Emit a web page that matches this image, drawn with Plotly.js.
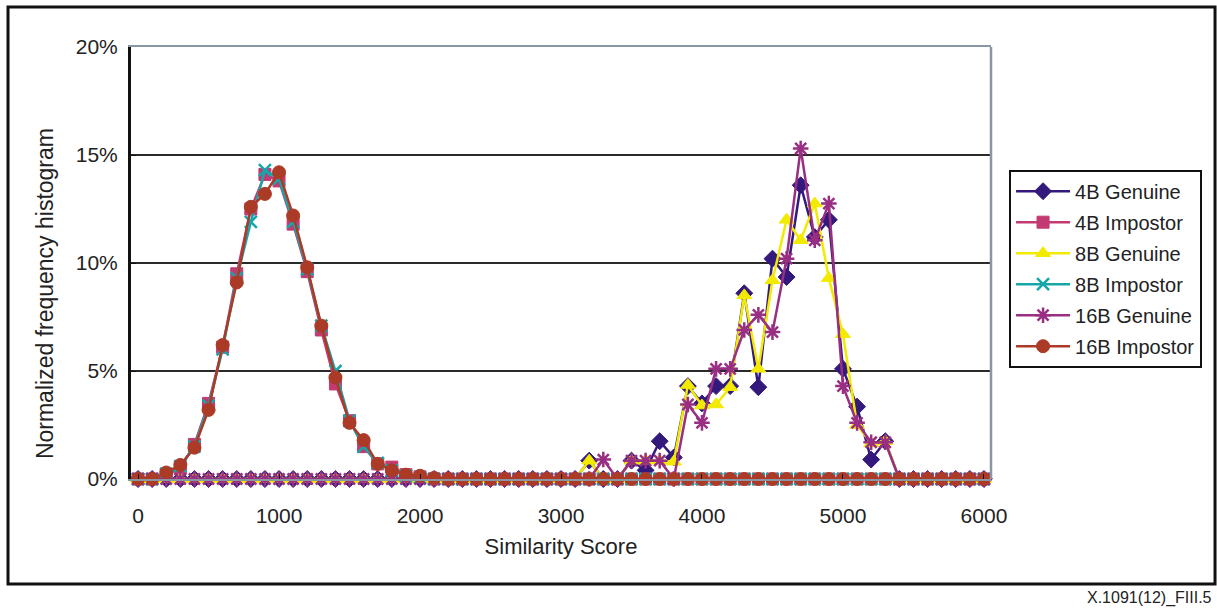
<!DOCTYPE html>
<html>
<head>
<meta charset="utf-8">
<script src="https://cdn.plot.ly/plotly-3.0.1.min.js"></script>
<style>
  html, body { margin: 0; padding: 0; background: #ffffff; }
  #chart { width: 1217px; height: 608px; }
</style>
</head>
<body>
<div id="chart"></div>
<script>
// Similarity score bins (category axis, one point per 100)
const scores = [
  0, 100, 200, 300, 400, 500, 600, 700, 800, 900,
  1000, 1100, 1200, 1300, 1400, 1500, 1600, 1700, 1800, 1900,
  2000, 2100, 2200, 2300, 2400, 2500, 2600, 2700, 2800, 2900,
  3000, 3100, 3200, 3300, 3400, 3500, 3600, 3700, 3800, 3900,
  4000, 4100, 4200, 4300, 4400, 4500, 4600, 4700, 4800, 4900,
  5000, 5100, 5200, 5300, 5400, 5500, 5600, 5700, 5800, 5900,
  6000
];

const xTickVals = [0, 1000, 2000, 3000, 4000, 5000, 6000];
const xTickText = ['0', '1000', '2000', '3000', '4000', '5000', '6000'];
const yTickVals = [0, 5, 10, 15, 20];
const yTickText = ['0%', '5%', '10%', '15%', '20%'];

// Normalized frequency (%) per bin
const genuine4B = [
  0, 0, 0, 0, 0, 0, 0, 0, 0, 0,
  0, 0, 0, 0, 0, 0, 0, 0, 0, 0,
  0, 0, 0, 0, 0, 0, 0, 0, 0, 0,
  0, 0, 0.85, 0, 0, 0.85, 0.4, 1.75, 1.0, 4.3,
  3.5, 4.3, 4.3, 8.6, 4.25, 10.2, 9.35, 13.6, 11.2, 12.0,
  5.1, 3.35, 0.9, 1.75, 0, 0, 0, 0, 0, 0,
  0
];
const impostor4B = [
  0, 0, 0.2, 0.5, 1.6, 3.5, 6.1, 9.5, 12.5, 14.1,
  13.8, 11.8, 9.6, 6.9, 4.4, 2.7, 1.5, 0.7, 0.55, 0.2,
  0.1, 0, 0, 0, 0, 0, 0, 0, 0, 0,
  0, 0, 0, 0, 0, 0, 0, 0, 0, 0,
  0, 0, 0, 0, 0, 0, 0, 0, 0, 0,
  0, 0, 0, 0, 0, 0, 0, 0, 0, 0,
  0
];
const genuine8B = [
  0, 0, 0, 0, 0, 0, 0, 0, 0, 0,
  0, 0, 0, 0, 0, 0, 0, 0, 0, 0,
  0, 0, 0, 0, 0, 0, 0, 0, 0, 0,
  0, 0, 0.85, 0, 0, 0.85, 0.85, 0.85, 0.8, 4.35,
  3.4, 3.45, 4.25, 8.5, 5.1, 9.2, 12.0, 11.05, 12.75, 9.3,
  6.7, 2.5, 1.65, 1.75, 0, 0, 0, 0, 0, 0,
  0
];
const impostor8B = [
  0, 0, 0.25, 0.6, 1.5, 3.4, 6.0, 9.3, 11.9, 14.3,
  13.9, 11.9, 9.7, 7.1, 5.0, 2.7, 1.5, 0.75, 0.4, 0.15,
  0.05, 0, 0, 0, 0, 0, 0, 0, 0, 0,
  0, 0, 0, 0, 0, 0, 0, 0, 0, 0,
  0, 0, 0, 0, 0, 0, 0, 0, 0, 0,
  0, 0, 0, 0, 0, 0, 0, 0, 0, 0,
  0
];
const genuine16B = [
  0, 0, 0, 0, 0, 0, 0, 0, 0, 0,
  0, 0, 0, 0, 0, 0, 0, 0, 0, 0,
  0, 0, 0, 0, 0, 0, 0, 0, 0, 0,
  0, 0, 0, 0.9, 0, 0.85, 0.85, 0.85, 0, 3.45,
  2.6, 5.1, 5.1, 6.9, 7.6, 6.8, 10.2, 15.3, 11.05, 12.75,
  4.3, 2.6, 1.7, 1.7, 0, 0, 0, 0, 0, 0,
  0
];
const impostor16B = [
  0, 0, 0.3, 0.65, 1.45, 3.2, 6.2, 9.1, 12.6, 13.2,
  14.2, 12.2, 9.8, 7.1, 4.7, 2.6, 1.8, 0.7, 0.4, 0.2,
  0.15, 0.05, 0, 0, 0, 0, 0, 0, 0, 0,
  0, 0, 0, 0, 0, 0, 0, 0, 0, 0,
  0, 0, 0, 0, 0, 0, 0, 0, 0, 0,
  0, 0, 0, 0, 0, 0, 0, 0, 0, 0,
  0
];

const seriesNames = ['4B Genuine', '4B Impostor', '8B Genuine', '8B Impostor', '16B Genuine', '16B Impostor'];
const seriesValues = [genuine4B, impostor4B, genuine8B, impostor8B, genuine16B, impostor16B];

const styles = [
  { color: '#34197c', symbol: 'diamond', size: 13, open: false },
  { color: '#c23a71', symbol: 'square', size: 12, open: false },
  { color: '#f2ea00', symbol: 'triangle-up', size: 13, open: false },
  { color: '#16a6aa', symbol: 'x-thin-open', size: 12, open: true },
  { color: '#992f83', symbol: 'asterisk-open', size: 13, open: true },
  { color: '#ab3b26', symbol: 'circle', size: 13, open: false }
];

const traces = seriesNames.map((name, i) => {
  const s = styles[i];
  return {
    type: 'scatter',
    mode: 'lines+markers',
    name: name,
    legendgroup: 'g' + i,
    x: scores,
    y: seriesValues[i],
    cliponaxis: false,
    line: { color: s.color, width: 2.5 },
    marker: {
      symbol: s.symbol,
      size: s.size,
      color: s.color,
      line: { color: s.color, width: s.open ? 2.5 : 1 }
    }
  };
});

const layout = {
  width: 1217,
  height: 608,
  margin: { l: 131, r: 226, t: 47, b: 129 },
  paper_bgcolor: '#ffffff',
  plot_bgcolor: '#ffffff',
  font: { family: '"Liberation Sans", Arial, sans-serif', color: '#222222', size: 21 },
  showlegend: true,
  legend: {
    x: 1.021, y: 0.716, xanchor: 'left', yanchor: 'top',
    bgcolor: '#ffffff', bordercolor: '#111111', borderwidth: 2,
    font: { size: 20, color: '#222222' },
    itemwidth: 54,
    traceorder: 'grouped', tracegroupgap: 2
  },
  xaxis: {
    range: [-50, 6050],
    tickmode: 'array',
    tickvals: xTickVals,
    ticktext: xTickText,
    ticks: 'inside', ticklen: 5, tickcolor: '#111111',
    showgrid: false, zeroline: false,
    showline: true, linecolor: '#8a96a3', linewidth: 2, mirror: true,
    ticklabelstandoff: 17,
    title: { text: 'Similarity Score', font: { size: 22 }, standoff: 12 }
  },
  yaxis: {
    range: [0, 20],
    tickmode: 'array',
    tickvals: yTickVals,
    ticktext: yTickText,
    showgrid: true, gridcolor: '#2a2a2a', gridwidth: 2,
    zeroline: false,
    showline: true, linecolor: '#111111', linewidth: 3,
    ticks: 'inside', ticklen: 5, tickcolor: '#111111',
    ticklabelstandoff: 6
  },
  annotations: [
    {
      text: 'Normalized frequency histogram',
      xref: 'paper', yref: 'paper', x: -0.1, y: 0.428,
      xanchor: 'center', yanchor: 'middle', textangle: -90,
      showarrow: false, font: { size: 23, color: '#222222' }
    },
    {
      text: 'X.1091(12)_FIII.5',
      xref: 'paper', yref: 'paper', x: 1.2593, y: -0.2755,
      xanchor: 'right', yanchor: 'middle',
      showarrow: false, font: { size: 16, color: '#222222' }
    }
  ],
  shapes: [
    // outer frame
    { type: 'rect', xref: 'paper', yref: 'paper', x0: -0.143, x1: 1.2605, y0: -0.243, y1: 1.0926,
      line: { color: '#111111', width: 3 }, fillcolor: 'rgba(0,0,0,0)', layer: 'below' },
    // right edge of the plot area
    { type: 'line', xref: 'paper', yref: 'paper', x0: 1, x1: 1, y0: 0, y1: 1,
      line: { color: '#8a96a3', width: 2.5 } }
  ]
};

Plotly.newPlot('chart', traces, layout, { displayModeBar: false, staticPlot: true });
</script>
</body>
</html>
